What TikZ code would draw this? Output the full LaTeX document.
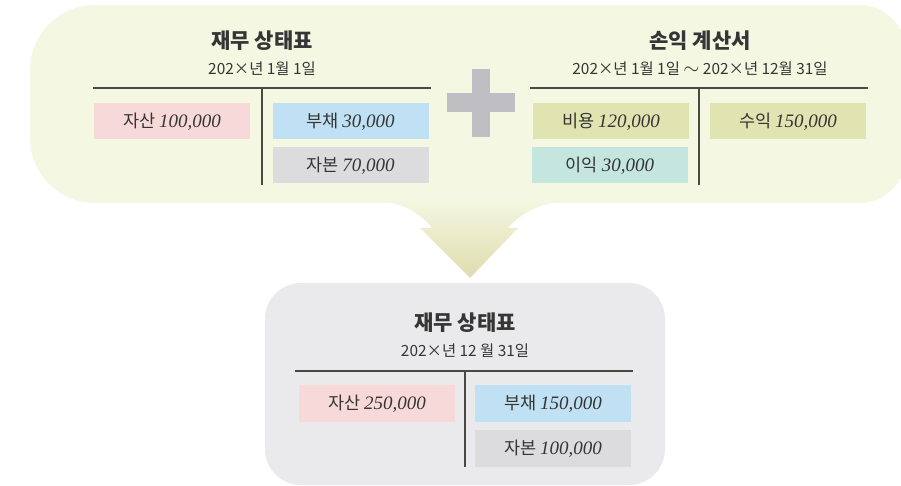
\documentclass[tikz,border=0pt]{standalone}
\usepackage{fontspec}
\setmainfont{Noto Sans CJK KR}
\newfontfamily\numfont{Liberation Serif}
\definecolor{topbg}{HTML}{F4F7E1}
\definecolor{botbg}{HTML}{EAEAEC}
\definecolor{neckend}{HTML}{DEDCAE}
\definecolor{plusgray}{HTML}{BEBEC3}
\definecolor{rulegray}{HTML}{4A4A45}
\definecolor{txt}{HTML}{353535}
\definecolor{pinkbox}{HTML}{F8D9D9}
\definecolor{bluebox}{HTML}{C0E0F3}
\definecolor{graybox}{HTML}{DCDCDE}
\definecolor{olivebox}{HTML}{DFE4B1}
\definecolor{tealbox}{HTML}{C5E6DF}
\newcommand\amt[1]{{\numfont\itshape\fontsize{19}{19}\selectfont #1}}
\newcommand\wave{{\fontsize{21}{21}\selectfont$\sim$}}
\tikzstyle{entry}=[minimum width=156pt,minimum height=36pt,inner sep=0pt,text=txt,font=\fontsize{17.5}{17.5}\selectfont,text depth=2pt]
\tikzstyle{title}=[text=txt,font=\bfseries\fontsize{21}{21}\selectfont]
\tikzstyle{period}=[text=txt,font=\fontsize{15.4}{15.4}\selectfont]
\tikzstyle{rule}=[draw=rulegray,line width=1.3pt]

\begin{document}
\begin{tikzpicture}[x=1pt,y=-1pt]
\useasboundingbox (0,0) rectangle (901,486);

% backgrounds
\fill[topbg] (30,70) .. controls (30,34) and (59,5) .. (95,5) -- (860,5)
  .. controls (885,5) and (906,26) .. (906,51) -- (906,157)
  .. controls (906,182) and (885,203) .. (860,203) -- (95,203)
  .. controls (59,203) and (30,174) .. (30,138) -- cycle;
\shade[top color=topbg,bottom color=neckend] (385,200) -- (392,203)
  .. controls (410,207) and (425,218) .. (432,228) -- (420,228) -- (470,278)
  -- (518,228) -- (508,228) .. controls (516,218) and (532,207) .. (552,203)
  -- (560,200) -- cycle;
\fill[botbg,rounded corners=36] (265,283) rectangle (665,485);

% plus
\fill[plusgray] (472,69) rectangle (490,137);
\fill[plusgray] (447,93) rectangle (515,112);

% balance sheet (start)
\node[title]  (bs1)  at (262,41) {재무 상태표};
\node[period] (bs1d) at (262,69) {202×년 1월 1일};
\coordinate (bs1l) at (93,88);
\coordinate (bs1r) at (431,88);
\coordinate (bs1t) at (262,88);
\coordinate (bs1b) at (262,185);
\draw[rule] (bs1l) -- (bs1r);
\draw[rule] (bs1t) -- (bs1b);
\node[entry,fill=pinkbox] (asset1)  at (172,121)   {자산 \amt{100,000}};
\node[entry,fill=bluebox] (debt1)   at (350.5,121) {부채 \amt{30,000}};
\node[entry,fill=graybox] (equity1) at (350.5,165) {자본 \amt{70,000}};

% income statement
\node[title]  (is)  at (700,41) {손익 계산서};
\node[period] (isd) at (700,69) {202×년 1월 1일 \wave{} 202×년 12월 31일};
\coordinate (isl) at (530,88);
\coordinate (isr) at (868,88);
\coordinate (ist) at (699,88);
\coordinate (isb) at (699,185);
\draw[rule] (isl) -- (isr);
\draw[rule] (ist) -- (isb);
\node[entry,fill=olivebox] (cost)    at (611,121) {비용 \amt{120,000}};
\node[entry,fill=tealbox]  (profit)  at (610,165) {이익 \amt{30,000}};
\node[entry,fill=olivebox] (revenue) at (788,121) {수익 \amt{150,000}};

% balance sheet (end)
\node[title]  (bs2)  at (465,323) {재무 상태표};
\node[period] (bs2d) at (465,351) {202×년 12 월 31일};
\coordinate (bs2l) at (295,371);
\coordinate (bs2r) at (633,371);
\coordinate (bs2t) at (465,371);
\coordinate (bs2b) at (465,467);
\draw[rule] (bs2l) -- (bs2r);
\draw[rule] (bs2t) -- (bs2b);
\node[entry,fill=pinkbox,minimum height=37pt] (asset2)  at (377,403.5) {자산 \amt{250,000}};
\node[entry,fill=bluebox,minimum height=37pt] (debt2)   at (553,403.5) {부채 \amt{150,000}};
\node[entry,fill=graybox,minimum height=37pt] (equity2) at (553,448.5) {자본 \amt{100,000}};

\end{tikzpicture}
\end{document}
